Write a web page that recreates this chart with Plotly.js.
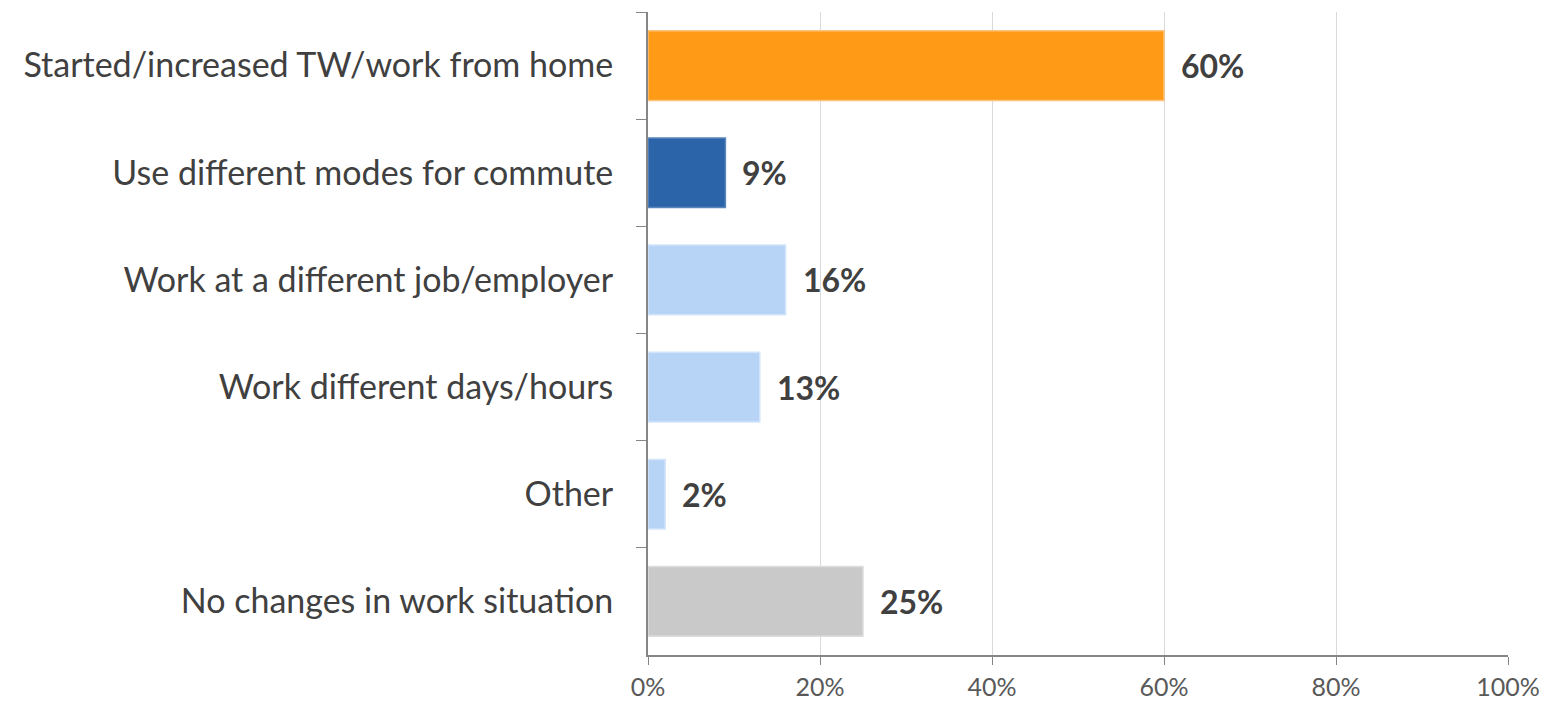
<!DOCTYPE html>
<html><head><meta charset="utf-8">
<script src="https://cdn.plot.ly/plotly-3.0.1.min.js"></script>
<style>html,body{margin:0;padding:0;background:#fff}#chart{width:1553px;height:702px}</style>
</head><body><div id="chart"></div>
<script>
const categories = ["Started/increased TW/work from home","Use different modes for commute","Work at a different job/employer","Work different days/hours","Other","No changes in work situation"];
const values = [60, 9, 16, 13, 2, 25];
const barColors = ["#FF9A17","#2B64A9","#B7D4F7","#B7D4F7","#B7D4F7","#C9C9C9"];
const edgeColors = ["#FFC27A","#5A86BC","#D3E5FA","#D3E5FA","#D3E5FA","#DDDDDD"];
const tickVals = [0,20,40,60,80,100];
const tickText = ["0%","20%","40%","60%","80%","100%"];
const FONT = "Lato, 'Open Sans', sans-serif";

const trace = {
  type: "bar", orientation: "h",
  x: values, y: categories,
  marker: {color: barColors, line: {color: edgeColors, width: 1.5}},
  hoverinfo: "none"
};
const annotations = categories.map((c,i)=>({
  x: values[i], y: c, xref: "x", yref: "y",
  text: "<b>" + values[i] + "%</b>", showarrow: false,
  xanchor: "left", xshift: 15,
  font: {family: FONT, size: 32, color: "#404040"}
}));
const layout = {
  width: 1553, height: 702,
  margin: {l: 648, r: 45, t: 12, b: 47},
  paper_bgcolor: "#fff", plot_bgcolor: "#fff",
  showlegend: false, bargap: 0.35,
  font: {family: FONT},
  xaxis: {
    range: [0, 100], tickvals: tickVals, ticktext: tickText,
    showgrid: true, gridcolor: "#D9D9D9", gridwidth: 1,
    zeroline: false, showline: true, linecolor: "#868686", linewidth: 2,
    ticks: "outside", ticklen: 8, tickcolor: "#868686", tickwidth: 1,
    tickfont: {family: FONT, size: 25, color: "#595959"},
    ticklabelstandoff: 1, fixedrange: true
  },
  yaxis: {
    type: "category", autorange: "reversed",
    showline: true, linecolor: "#868686", linewidth: 2,
    ticks: "outside", tickson: "boundaries", ticklen: 10, tickcolor: "#868686", tickwidth: 1,
    tickfont: {family: FONT, size: 34, color: "#404040"},
    ticklabelstandoff: 26, showgrid: false, zeroline: false, fixedrange: true
  },
  annotations: annotations
};
Plotly.newPlot("chart", [trace], layout, {staticPlot: true, displayModeBar: false});
</script></body></html>
